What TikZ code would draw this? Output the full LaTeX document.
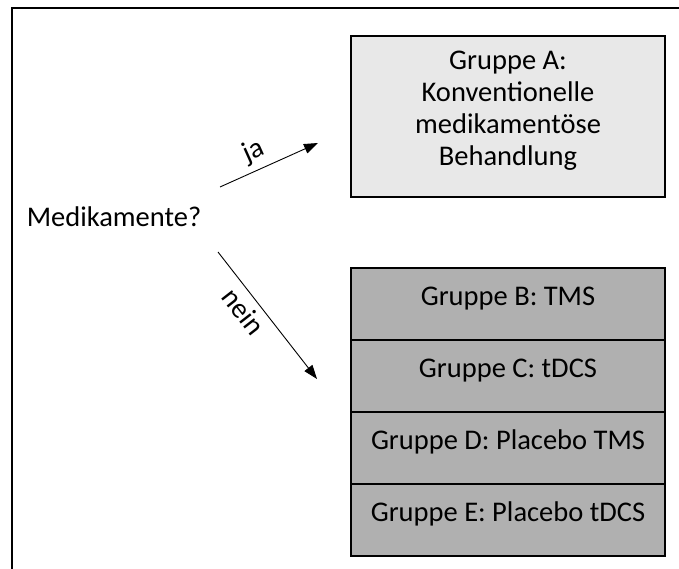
\documentclass[tikz,border=0pt]{standalone}
\usepackage{fontspec}
\setmainfont{Carlito}
\usetikzlibrary{arrows.meta}

\tikzset{
  grpbox/.style={rectangle,draw,line width=2pt,minimum width=314pt,align=center},
  grprow/.style={grpbox,fill=black!31,minimum height=72pt,text height=21pt,text depth=18pt},
  jaarrow/.style={line width=0.9pt,-{Triangle[length=14pt,width=10pt]}}
}

\begin{document}
\begin{tikzpicture}[x=1pt,y=-1pt,font=\fontsize{28.5}{32}\selectfont]

        \useasboundingbox (0,0) rectangle (679,569);
        \draw[line width=2.5pt] (12,569) -- (12,8) -- (679,8);

        \node (med) at (114,217) {Medikamente?};

        \node[grpbox,fill=black!9,minimum height=161pt,text depth=17pt] (A) at (508,116.5)
          {Gruppe A:\\Konventionelle\\medikament\"ose\\Behandlung};

        \begin{scope}[every node/.style={grprow}]
          \node (B) at (508,304) {Gruppe B: TMS};
          \node (C) at (508,376) {Gruppe C: tDCS};
          \node (D) at (508,448) {Gruppe D: Placebo TMS};
          \node (E) at (508,520) {Gruppe E: Placebo tDCS};
        \end{scope}

        \coordinate (jafrom) at (220,187);
        \coordinate (jato) at (318,143);
        \coordinate (neinfrom) at (218,252);
        \coordinate (neinto) at (317,379);

        \begin{scope}[every node/.style={sloped,inner sep=6pt}]
          \path (jafrom) edge[jaarrow] node[above,pos=0.42] {ja} (jato);
          \path (neinfrom) edge[jaarrow] node[below,pos=0.39] {nein} (neinto);
        \end{scope}

      \end{tikzpicture}
\end{document}
